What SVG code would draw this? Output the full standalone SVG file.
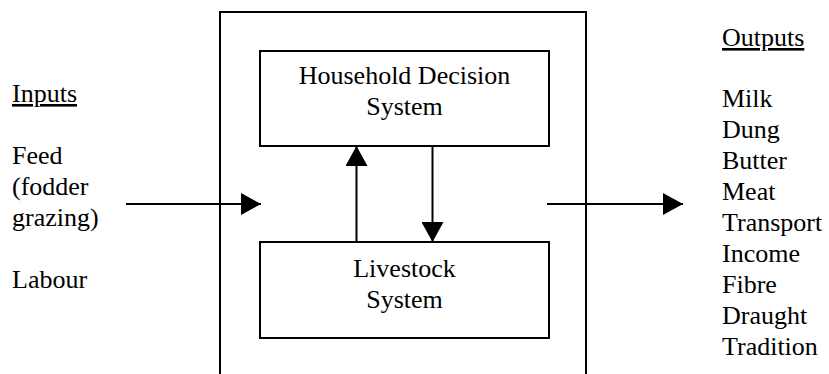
<svg xmlns="http://www.w3.org/2000/svg" width="829" height="374" viewBox="0 0 829 374">
  <style>
    svg text, g text, text { font-family: "Liberation Serif", "Times New Roman", serif !important; font-size: 26px; fill: #000; }
    .c { text-anchor: middle; }
    .u { text-decoration: underline; }
    .box { fill: none; stroke: #000; stroke-width: 2; }
    .conn line { stroke: #000; stroke-width: 2; }
  </style>
  <defs>
    <marker id="ah" markerUnits="userSpaceOnUse" markerWidth="20" markerHeight="22" refX="20" refY="11" orient="auto" viewBox="0 0 20 22">
      <path d="M0,0 L20,11 L0,22 z" fill="#000"/>
    </marker>
  </defs>
  <rect width="829" height="374" fill="#fff"/>

  <g id="system-boundary">
    <path class="box" d="M220,380 L220,12 L586,12 L586,380"/>
  </g>

  <g id="household-decision-system">
    <rect class="box" x="260" y="51" width="289" height="95"/>
    <text class="c" x="404.5" y="84" style="font-family:'Liberation Serif',serif !important">Household Decision</text>
    <text class="c" x="404.5" y="115" style="font-family:'Liberation Serif',serif !important">System</text>
  </g>

  <g id="livestock-system">
    <rect class="box" x="260" y="242" width="289" height="96"/>
    <text class="c" x="404.5" y="277" style="font-family:'Liberation Serif',serif !important">Livestock</text>
    <text class="c" x="404.5" y="308" style="font-family:'Liberation Serif',serif !important">System</text>
  </g>

  <g id="inputs">
    <text class="u" x="12" y="102" style="font-family:'Liberation Serif',serif !important">Inputs</text>
    <text x="12" y="164" style="font-family:'Liberation Serif',serif !important">Feed</text>
    <text x="12" y="195" style="font-family:'Liberation Serif',serif !important">(fodder</text>
    <text x="12" y="226" style="font-family:'Liberation Serif',serif !important">grazing)</text>
    <text x="12" y="288" style="font-family:'Liberation Serif',serif !important">Labour</text>
  </g>

  <g id="outputs">
    <text class="u" x="722" y="46" style="font-family:'Liberation Serif',serif !important">Outputs</text>
    <text x="722" y="107" style="font-family:'Liberation Serif',serif !important">Milk</text>
    <text x="722" y="138" style="font-family:'Liberation Serif',serif !important">Dung</text>
    <text x="722" y="169" style="font-family:'Liberation Serif',serif !important">Butter</text>
    <text x="722" y="200" style="font-family:'Liberation Serif',serif !important">Meat</text>
    <text x="722" y="231" style="font-family:'Liberation Serif',serif !important">Transport</text>
    <text x="722" y="262" style="font-family:'Liberation Serif',serif !important">Income</text>
    <text x="722" y="293" style="font-family:'Liberation Serif',serif !important">Fibre</text>
    <text x="722" y="324" style="font-family:'Liberation Serif',serif !important">Draught</text>
    <text x="722" y="355" style="font-family:'Liberation Serif',serif !important">Tradition</text>
  </g>

  <g id="connectors" class="conn">
    <line x1="126" y1="204" x2="261" y2="204" marker-end="url(#ah)"/>
    <line x1="547" y1="204" x2="683" y2="204" marker-end="url(#ah)"/>
    <line x1="356.5" y1="242" x2="356.5" y2="146" marker-end="url(#ah)"/>
    <line x1="432.5" y1="146" x2="432.5" y2="242" marker-end="url(#ah)"/>
  </g>
</svg>
